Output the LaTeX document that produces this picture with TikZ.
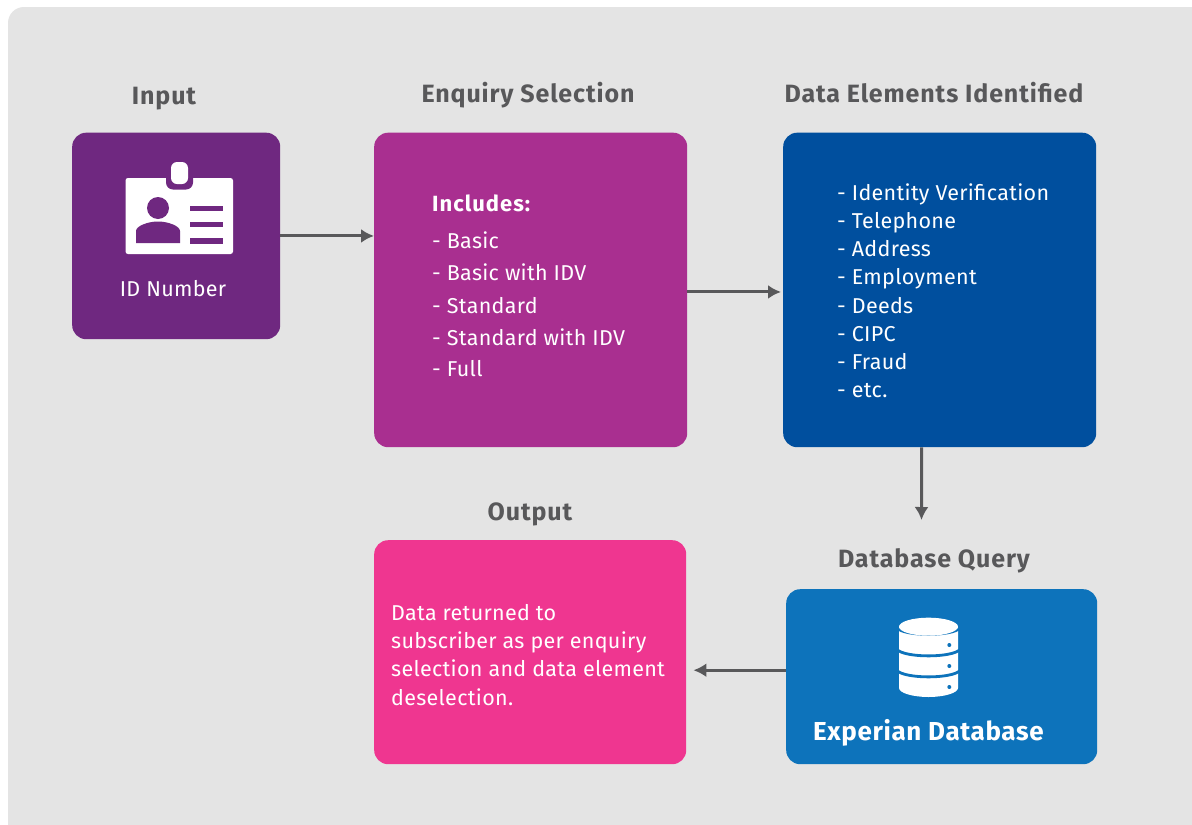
\documentclass[tikz,border=0pt]{standalone}
\usepackage{fontspec}
\setmainfont{Fira Sans}
\usetikzlibrary{arrows.meta}
\definecolor{panel}{HTML}{E4E4E4}
\definecolor{cpurple}{HTML}{6F2880}
\definecolor{cmag}{HTML}{A92F90}
\definecolor{cblue}{HTML}{004F9E}
\definecolor{cpink}{HTML}{EF3690}
\definecolor{cdb}{HTML}{0D73BB}
\definecolor{cgrey}{HTML}{58585A}
\tikzset{
 x=1pt,y=-1pt,
 title/.style={text=cgrey,font=\fontsize{25}{30}\selectfont\bfseries\addfontfeature{LetterSpace=3.6},inner sep=0pt,anchor=base},
 body/.style={text=white,font=\fontsize{21.5}{28}\selectfont\addfontfeature{LetterSpace=1.4},inner sep=0pt,anchor=base west},
 conn/.style={draw=cgrey,line width=3pt,-{Latex[length=13pt,width=14pt]}},
}
\newcommand{\boxat}[6]{\node[fill=#6,rounded corners=14pt,inner sep=0pt,minimum width=#4pt-#2pt,minimum height=#5pt-#3pt,anchor=north west] (#1) at (#2,#3) {};}
\begin{document}
\begin{tikzpicture}
\useasboundingbox (0,0) rectangle (1192,825);
\fill[white] (0,0) rectangle (1192,825);
\fill[panel,rounded corners=16pt] (8,7) rectangle (1240,880);
\boxat{inp}{72}{132.5}{280}{339}{cpurple}
\boxat{enq}{374}{132.5}{687}{447}{cmag}
\boxat{dat}{783}{132.5}{1096}{447}{cblue}
\boxat{out}{374}{540}{686}{764}{cpink}
\boxat{dbq}{786}{589}{1097}{764}{cdb}
\node[title] (t1) at (164,104) {Input};
\node[title] (t2) at (528,102) {Enquiry Selection};
\node[title] (t3) at (934,102) {Data Elements Identified};
\node[title] (t4) at (530,520) {Output};
\node[title] (t5) at (934,567) {Database Query};
% ID icon
\fill[white,rounded corners=2.5pt] (125.5,178) rectangle (233,254);
\fill[cpurple,rounded corners=7pt] (166,170) rectangle (193,189.5);
\fill[white,rounded corners=6pt] (171,162) rectangle (188,184);
\fill[cpurple] (158,208) circle (11);
\fill[cpurple] (136,243) -- (136,231) .. controls (136,226) and (148,221.5) .. (158,221.5) .. controls (168,221.5) and (180,226) .. (180,231) -- (180,243) -- cycle;
\fill[cpurple] (190,205.5) rectangle (222.5,211);
\fill[cpurple] (190,221.5) rectangle (222.5,227);
\fill[cpurple] (190,238) rectangle (222.5,243.5);
\node[body,anchor=base] (idn) at (173,296) {ID Number};
% Enquiry
\node[body,font=\fontsize{22}{28}\selectfont\bfseries\addfontfeature{LetterSpace=4.5}] (inc) at (432,211) {Includes:};
\node[body] (e1) at (432,248) {- Basic};
\node[body] (e2) at (432,280) {- Basic with IDV};
\node[body] (e3) at (432,313) {- Standard};
\node[body] (e4) at (432,345) {- Standard with IDV};
\node[body] (e5) at (432,376) {- Full};
% Data
\node[body] (d1) at (837,200) {- Identity Verification};
\node[body] (d2) at (837,228) {- Telephone};
\node[body] (d3) at (837,256) {- Address};
\node[body] (d4) at (837,284) {- Employment};
\node[body] (d5) at (837,313) {- Deeds};
\node[body] (d6) at (837,341) {- CIPC};
\node[body] (d7) at (837,369) {- Fraud};
\node[body] (d8) at (837,397) {- etc.};
% Output
\node[body] (o1) at (391,620) {Data returned to};
\node[body] (o2) at (391,648) {subscriber as per enquiry};
\node[body] (o3) at (391,676) {selection and data element};
\node[body] (o4) at (391,705) {deselection.};
% DB icon
\fill[white] (899,627) -- (958,627) -- (958,688) .. controls (958,693) and (944,697) .. (928.5,697) .. controls (913,697) and (899,693) .. (899,688) -- cycle;
\foreach \yy in {627,648.5,669.5}{
 \draw[cdb,line width=2.8pt] (897,\yy+1) .. controls (905,\yy+9.5) and (952,\yy+9.5) .. (960,\yy+1);
}
\fill[white] (928.5,626.7) ellipse (29.5 and 9);
\foreach \yy in {645,666,687}{\fill[cdb] (949.3,\yy) circle (2);}
\node[body,font=\fontsize{26}{32}\selectfont\bfseries\addfontfeature{LetterSpace=2.4},anchor=base west] (exp) at (813,740) {Experian Database};
% connectors
\coordinate (dn) at (921.5,520);
\draw[conn] (inp.east) -- ([yshift=54pt]enq.west);
\draw[conn] ([yshift=-2pt]enq.east) -- ([yshift=-2pt,xshift=-2pt]dat.west);
\draw[conn] ([xshift=-18pt]dat.south) -- (dn);
\draw[conn] ([yshift=6.5pt]dbq.west) -- ([xshift=7pt,yshift=-18pt]out.east);
\end{tikzpicture}
\end{document}
